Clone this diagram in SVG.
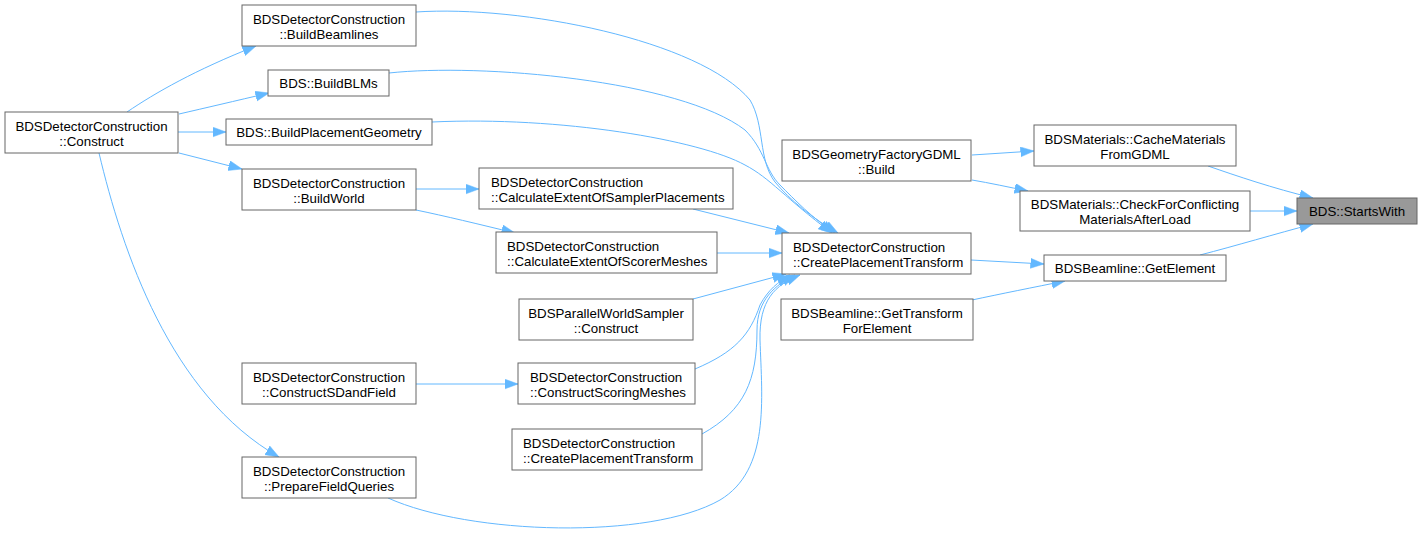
<svg xmlns="http://www.w3.org/2000/svg" width="1423" height="535" viewBox="0 0 1423 535">
<defs>
<marker id="arr" markerUnits="userSpaceOnUse" markerWidth="15" markerHeight="11" refX="13.5" refY="5" orient="auto">
<path d="M0,0 L13.5,5 L0,10 z" fill="#63b8ff" stroke="#63b8ff" stroke-width="0.5"/>
</marker>
<style>
.n rect{fill:#ffffff;stroke:#666666;stroke-width:1}
.n.hl rect{fill:#999999}
.n text{font-family:"Liberation Sans",Arial,Helvetica,sans-serif;font-size:13.3px;fill:#000000}
.c{text-anchor:middle}
.e path{fill:none;stroke:#63b8ff;stroke-width:1;marker-end:url(#arr)}
</style>
</defs>
<rect x="0" y="0" width="1423" height="535" fill="#ffffff"/>
<g id="edges" class="e">
<path d="M1208,166 C1237,176 1272,188 1313,198"/>
<path d="M1250,211 L1297,211"/>
<path d="M1200,255 C1235,246 1275,234 1313,224"/>
<path d="M972,155 L1034,151"/>
<path d="M972,180 C990,183 1008,187 1028,191"/>
<path d="M971,260 L1044,264"/>
<path d="M972,300 C1000,294 1035,287 1065,281"/>
<path d="M127,112 C155,93 195,70 256,46"/>
<path d="M179,114 C205,108 235,101 269,93"/>
<path d="M178,132 L226,132"/>
<path d="M179,153 L242,169"/>
<path d="M99,153 C122,250 170,395 279,457"/>
<path d="M416,189 L479,189"/>
<path d="M416,210 C445,216 478,224 515,233"/>
<path d="M416,384 L518,384"/>
<path d="M416,12 C520,5 700,40 750,100 C765,125 758,160 775,182 C790,200 812,218 838,233"/>
<path d="M389,73 C480,63 680,80 745,130 C765,150 765,170 780,185 C795,200 812,218 835,233"/>
<path d="M432,122 C560,116 700,140 745,165 C770,178 785,198 832,233"/>
<path d="M693,209 L789,233"/>
<path d="M717,253 L782,253"/>
<path d="M693,299 L786,274"/>
<path d="M695,369 C735,352 750,335 760,305 C768,290 778,282 790,275"/>
<path d="M702,434 C745,410 757,380 757,330 C757,300 775,285 795,275"/>
<path d="M388,498 C470,535 650,540 720,500 C770,470 762,400 760,340 C759,300 775,285 800,275"/>
</g>
<g id="n_startswith" class="n hl"><rect x="1297" y="198" width="120" height="26"/><text class="c" x="1357" y="216">BDS::StartsWith</text></g>
<g id="n_cachematerials" class="n"><rect x="1034" y="125" width="202" height="41"/><text class="c" x="1135" y="143.5">BDSMaterials::CacheMaterials</text><text class="c" x="1135" y="158.5">FromGDML</text></g>
<g id="n_checkconflicting" class="n"><rect x="1020" y="191" width="230" height="40"/><text class="c" x="1135" y="209">BDSMaterials::CheckForConflicting</text><text class="c" x="1135" y="224">MaterialsAfterLoad</text></g>
<g id="n_getelement" class="n"><rect x="1044" y="255" width="182" height="26"/><text class="c" x="1135" y="273">BDSBeamline::GetElement</text></g>
<g id="n_gdmlbuild" class="n"><rect x="782" y="140" width="189" height="41"/><text class="c" x="876.5" y="158.5">BDSGeometryFactoryGDML</text><text class="c" x="876.5" y="173.5">::Build</text></g>
<g id="n_cpt_main" class="n"><rect x="782" y="233" width="189" height="41"/><text x="793" y="251.5">BDSDetectorConstruction</text><text x="793" y="266.5">::CreatePlacementTransform</text></g>
<g id="n_gettransform" class="n"><rect x="781" y="299" width="192" height="41"/><text class="c" x="877" y="317.5">BDSBeamline::GetTransform</text><text class="c" x="877" y="332.5">ForElement</text></g>
<g id="n_construct" class="n"><rect x="5" y="112" width="173" height="41"/><text class="c" x="91.5" y="130.5">BDSDetectorConstruction</text><text class="c" x="91.5" y="145.5">::Construct</text></g>
<g id="n_buildbeamlines" class="n"><rect x="242" y="5" width="174" height="41"/><text class="c" x="329" y="23.5">BDSDetectorConstruction</text><text class="c" x="329" y="38.5">::BuildBeamlines</text></g>
<g id="n_buildblms" class="n"><rect x="268" y="70" width="121" height="26"/><text class="c" x="328.5" y="88">BDS::BuildBLMs</text></g>
<g id="n_buildplacementgeom" class="n"><rect x="226" y="119" width="206" height="26"/><text class="c" x="329" y="137">BDS::BuildPlacementGeometry</text></g>
<g id="n_buildworld" class="n"><rect x="242" y="169" width="174" height="41"/><text class="c" x="329" y="187.5">BDSDetectorConstruction</text><text class="c" x="329" y="202.5">::BuildWorld</text></g>
<g id="n_samplerplacements" class="n"><rect x="479" y="168" width="254" height="41"/><text x="491" y="186.5">BDSDetectorConstruction</text><text x="491" y="201.5">::CalculateExtentOfSamplerPlacements</text></g>
<g id="n_scorermeshes" class="n"><rect x="496" y="232" width="221" height="41"/><text x="507" y="250.5">BDSDetectorConstruction</text><text x="507" y="265.5">::CalculateExtentOfScorerMeshes</text></g>
<g id="n_parallelworld" class="n"><rect x="519" y="299" width="174" height="41"/><text class="c" x="606" y="317.5">BDSParallelWorldSampler</text><text class="c" x="606" y="332.5">::Construct</text></g>
<g id="n_sdandfield" class="n"><rect x="242" y="363" width="174" height="41"/><text class="c" x="329" y="381.5">BDSDetectorConstruction</text><text class="c" x="329" y="396.5">::ConstructSDandField</text></g>
<g id="n_scoringmeshes" class="n"><rect x="518" y="363" width="177" height="41"/><text x="530" y="381.5">BDSDetectorConstruction</text><text x="530" y="396.5">::ConstructScoringMeshes</text></g>
<g id="n_cpt_lower" class="n"><rect x="512" y="429" width="190" height="41"/><text x="523" y="447.5">BDSDetectorConstruction</text><text x="523" y="462.5">::CreatePlacementTransform</text></g>
<g id="n_preparefield" class="n"><rect x="242" y="457" width="174" height="41"/><text class="c" x="329" y="475.5">BDSDetectorConstruction</text><text class="c" x="329" y="490.5">::PrepareFieldQueries</text></g>
</svg>
